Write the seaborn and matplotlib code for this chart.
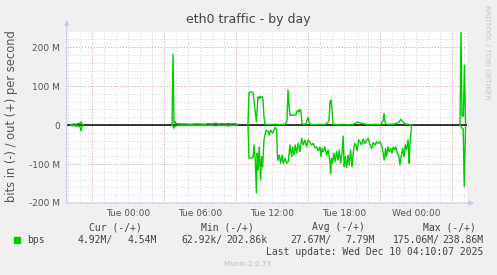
import numpy as np
import pandas as pd
import matplotlib
matplotlib.use("Agg")
import matplotlib.pyplot as plt
import seaborn as sns

# ---- data (minutes relative to Tue 00:00, values in Mbit/s) ----
out_minutes = [-285, -280, -270, -260, -250, -240, -235, -230, -225, -100,
               220, 225, 230, 235, 240, 260, 285, 310, 335, 360, 385, 400, 420, 440,
               450, 470, 485, 500, 520, 535, 545, 575,
               600, 605, 615, 625, 635, 642, 650, 655, 660, 665, 670, 675, 680, 685,
               710, 735, 760, 785, 795, 800, 805, 810, 820, 830, 840, 845, 850, 855,
               860, 865, 870, 875, 890, 895, 900, 905, 910, 935, 960, 985, 1005, 1010,
               1015, 1020, 1025, 1050, 1075, 1100, 1125, 1140, 1150, 1160, 1170, 1180,
               1190, 1210, 1235, 1260, 1275, 1280, 1285, 1290, 1310, 1335, 1355, 1365,
               1375, 1385, 1400, 1415, 1420, 1500,
               1660, 1665, 1670, 1677, 1682, 1688]
out_mbps = [1, 2, 3, 2, 4, 5, 8, 3, 1, np.nan,
            1, 182, 5, 9, 4, 3, 3, 2, 3, 3, 2, 4, 3, 5,
            3, 4, 3, 4, 3, 4, 2, np.nan,
            2, 84, 85, 83, 40, 8, 72, 68, 74, 70, 73, 66, 20, 2,
            1, 2, 1, 2, 10, 90, 50, 25, 26, 25, 27, 35, 38, 33,
            40, 35, 5, 2, 3, 12, 20, 8, 2, 1, 2, 1, 10, 60,
            64, 40, 2, 1, 2, 1, 2, 5, 8, 6, 4, 3,
            2, 1, 2, 1, 10, 30, 8, 2, 2, 3, 8, 15,
            8, 3, 2, 1, 0, np.nan,
            1, 238.86, 23, 23, 154, 4.54]

in_minutes = [-285, -280, -270, -260, -250, -240, -235, -230, -225, -100,
              220, 225, 230, 235, 240, 260, 285, 310, 335, 360, 385, 400, 420, 440,
              450, 470, 485, 500, 520, 535, 545, 575,
              600, 605, 625, 630, 637, 642, 646, 651, 656, 663, 668, 673, 680, 690,
              701, 706, 713, 723, 735, 743, 748, 756, 763, 770, 776, 785, 793, 801,
              810, 818, 823, 830, 836, 843, 851, 860, 868, 876, 885, 893, 901, 910,
              918, 926, 935, 943, 951, 960, 965, 970, 976, 985, 993, 1001, 1010, 1013,
              1018, 1023, 1030, 1036, 1043, 1050, 1056, 1063, 1070, 1076, 1081, 1086,
              1093, 1100, 1106, 1113, 1120, 1126, 1133, 1140, 1146, 1153, 1160, 1168,
              1176, 1185, 1193, 1201, 1210, 1218, 1226, 1235, 1243, 1251, 1260, 1268,
              1276, 1281, 1288, 1293, 1300, 1306, 1313, 1320, 1326, 1333, 1340, 1346,
              1353, 1360, 1366, 1373, 1380, 1386, 1393, 1400, 1403, 1406, 1410, 1413,
              1418, 1500,
              1660, 1665, 1670, 1676, 1681, 1688]
in_mbps = [-1, -2, -1, -3, -2, -4, -15, -5, -1, np.nan,
           -1, -2, -8, -4, -2, -1, -1, -1, -1, -1, -1, -1, -1, -2,
           -1, -1, -1, -2, -1, -1, -1, np.nan,
           -2, -85, -84, -51, -95, -174, -72, -115, -56, -141, -81, -107, -38, -13,
           -17, -26, -13, -21, -6, -13, -90, -77, -98, -77, -98, -85, -98, -94,
           -51, -81, -56, -77, -51, -72, -47, -68, -34, -51, -38, -56, -38, -45,
           -51, -47, -58, -56, -66, -56, -81, -60, -68, -56, -77, -64, -94, -124,
           -85, -98, -72, -94, -68, -90, -64, -98, -72, -28, -107, -81,
           -109, -77, -102, -64, -107, -72, -47, -51, -66, -38, -43, -51,
           -36, -47, -38, -34, -51, -60, -45, -51, -43, -47, -43, -51,
           -72, -90, -60, -81, -56, -68, -60, -72, -56, -64, -56, -72,
           -77, -102, -81, -60, -81, -51, -64, -38, -60, -98, -47, -30,
           -2, np.nan,
           -1, -3, -8, -10, -157, -4.92]

tick_minutes = [0, 360, 720, 1080, 1440]
tick_labels = ["Tue 00:00", "Tue 06:00", "Tue 12:00", "Tue 18:00", "Wed 00:00"]
ytick_values = [-200, -100, 0, 100, 200]
ytick_labels = ["-200 M", "-100 M", "0", "100 M", "200 M"]

legend_headers = ["Cur (-/+)", "Min (-/+)", "Avg (-/+)", "Max (-/+)"]
legend_values = ["4.92M/", "4.54M", "62.92k/", "202.86k", "27.67M/", "7.79M",
                 "175.06M/", "238.86M"]
series_name = "bps"
last_update = "Last update: Wed Dec 10 04:10:07 2025"
title = "eth0 traffic - by day"
ylabel = "bits in (-) / out (+) per second"

GREEN = "#00CC00"
W, H = 497, 275


def frame(minutes, values):
    df = pd.DataFrame({"minutes": minutes, "mbps": values})
    df["seg"] = df["mbps"].isna().cumsum()
    return df.dropna().reset_index(drop=True)


out_df = frame(out_minutes, out_mbps)
in_df = frame(in_minutes, in_mbps)

fig = plt.figure(figsize=(W / 100, H / 100), dpi=100, facecolor="#F0F0F0")
L, R, T, B = 66.7, 466.7, 32.0, 203.0
ax = fig.add_axes([L / W, 1 - B / H, (R - L) / W, (B - T) / H])
ax.set_facecolor("white")

xmin, xmax = -306.5, 1693.5
ymin, ymax = -200, 238.86
ax.set_xlim(xmin, xmax)
ax.set_ylim(ymin, ymax)

# grid
for m in np.arange(-300, 1700, 60):
    ax.axvline(m, color="#D4D4D4", lw=0.7, ls=(0, (1, 2)), zorder=1)
for m in np.arange(-180, 1700, 360):
    ax.axvline(m, color="#E2A8A8", lw=0.7, ls=(0, (1, 2)), zorder=1.1)
for v in np.arange(-200, 240, 20):
    ax.axhline(v, color="#D4D4D4", lw=0.7, ls=(0, (1, 2)), zorder=1)
for v in np.arange(-200, 240, 100):
    ax.axhline(v, color="#E2A8A8", lw=0.7, ls=(0, (1, 2)), zorder=1.1)

ax.axhline(0, color="black", lw=1.1, zorder=2)

sns.lineplot(data=out_df, x="minutes", y="mbps", units="seg", estimator=None,
             color=GREEN, lw=1.0, ax=ax, sort=False, zorder=3)
sns.lineplot(data=in_df, x="minutes", y="mbps", units="seg", estimator=None,
             color=GREEN, lw=1.0, ax=ax, sort=False, zorder=3)

for s in ax.spines.values():
    s.set_visible(False)
ax.set_xlabel("")
ax.set_ylabel("")
ax.set_xticks(tick_minutes)
ax.set_xticklabels(tick_labels)
ax.set_yticks(ytick_values)
ax.set_yticklabels(ytick_labels)
ax.tick_params(axis="both", length=0, labelsize=6.5, labelcolor="#555555")
ax.tick_params(axis="x", pad=4.5)
ax.tick_params(axis="y", pad=5)

# axis lines with arrows
axis_col = "#C5CBEE"
ax.annotate("", xy=(L / W, 1 - 20 / H), xytext=(L / W, 1 - B / H),
            xycoords="figure fraction", textcoords="figure fraction",
            arrowprops=dict(arrowstyle="-|>", color=axis_col, lw=0.8,
                            mutation_scale=7, shrinkA=0, shrinkB=0))
ax.annotate("", xy=(474 / W, 1 - B / H), xytext=(L / W, 1 - B / H),
            xycoords="figure fraction", textcoords="figure fraction",
            arrowprops=dict(arrowstyle="-|>", color=axis_col, lw=0.8,
                            mutation_scale=7, shrinkA=0, shrinkB=0))

def ftext(x, y, s, **kw):
    fig.text(x / W, 1 - y / H, s, **kw)

ftext(248, 20, title, ha="center", va="center", fontsize=9, color="#444444")
ftext(12, 116, ylabel, ha="center", va="center", rotation=90, fontsize=8.3,
      color="#555555")
ftext(487, 5, "RRDTOOL / TOBI OETIKER", ha="center", va="top", rotation=270,
      fontsize=5.3, color="#C4C4C4")

mono = dict(family="DejaVu Sans Mono", fontsize=7, color="#444444", va="center")
for x, s in zip([89, 201, 312, 423], legend_headers):
    ftext(x, 227.5, s, ha="left", **mono)
fig.patches.append(plt.Rectangle((14 / W, 1 - 242.5 / H), 5.5 / W, 5.5 / H,
                                 transform=fig.transFigure, color=GREEN))
ftext(27, 240, series_name, ha="left", **mono)
for x, s in zip([113, 157, 222, 267, 331, 375, 440, 483], legend_values):
    ftext(x, 240, s, ha="right", **mono)
ftext(483, 252, last_update, ha="right", **mono)
ftext(248, 264, "Munin 2.0.73", ha="center", va="center", fontsize=5.2,
      color="#BDBDBD")

fig.savefig("out.png", dpi=100, facecolor=fig.get_facecolor())
